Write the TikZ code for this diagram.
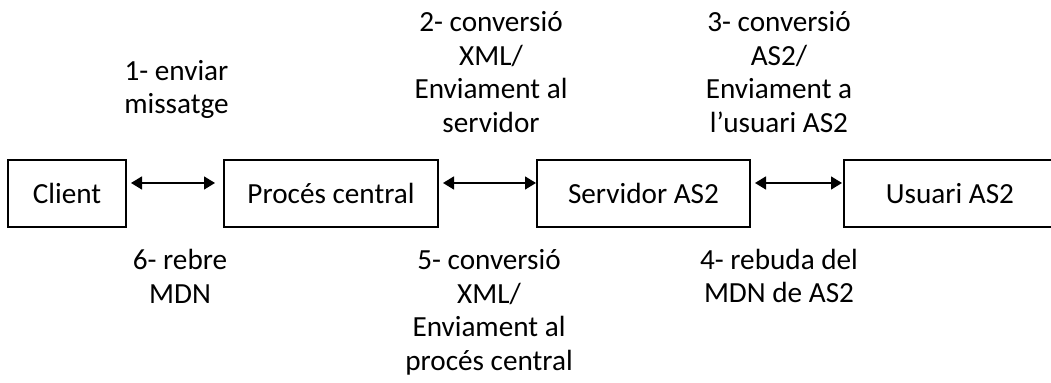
\documentclass[tikz,border=0pt]{standalone}
\usepackage{fontspec}
\setmainfont{Carlito}
\usetikzlibrary{arrows.meta}

\begin{document}
\begin{tikzpicture}
[
    x = 0.5pt, y = -0.5pt,
    every node/.style = {font = \fontsize{14.6}{16.8}\selectfont},
    box/.style = {draw, line width = 1pt, minimum height = 33.5pt, inner sep = 0pt},
    link/.style = {{Triangle[length = 5.5pt, width = 6.5pt]}-{Triangle[length = 5.5pt, width = 6.5pt]}, line width = 0.7pt},
    step label/.style = {align = center},
]
    \useasboundingbox (0,0) rectangle (1051,383);

    % the four parts
    \node[box, minimum width = 59pt]  (client)   at (67,193.5)    {Client};
    \node[box, minimum width = 107pt] (proces)   at (331,193.5)   {Procés central};
    \node[box, minimum width = 106.5pt] (servidor) at (643.5,193.5) {Servidor AS2};
    \node[box, minimum width = 106pt] (usuari)   at (950,193.5)   {Usuari AS2};

    % messages
    \draw[link, shorten <= 2pt, shorten >= 4pt]
        ([yshift = 5.25pt]client.east) -- ([yshift = 5.25pt]proces.west);
    \draw[link, shorten <= 2pt]
        ([yshift = 5.25pt]proces.east) -- ([yshift = 5.25pt]servidor.west);
    \draw[link, shorten <= 2pt, shorten >= 0.5pt]
        ([yshift = 5.25pt]servidor.east) -- ([yshift = 5.25pt]usuari.west);

    % steps above
    \node[step label] (pas1) at (176.5,89.5) {1- enviar\\missatge};
    \node[step label] (pas2) at (491,72)     {2- conversió\\XML/\\Enviament al\\servidor};
    \node[step label] (pas3) at (779,72)     {3- conversió\\AS2/\\Enviament a\\l’usuari AS2};

    % steps below
    \node[step label] (pas6) at (180,276.5)  {6- rebre\\MDN};
    \node[step label] (pas5) at (489,312.5)  {5- conversió\\XML/\\Enviament al\\procés central};
    \node[step label] (pas4) at (779,276)    {4- rebuda del\\MDN de AS2};
\end{tikzpicture}
\end{document}
